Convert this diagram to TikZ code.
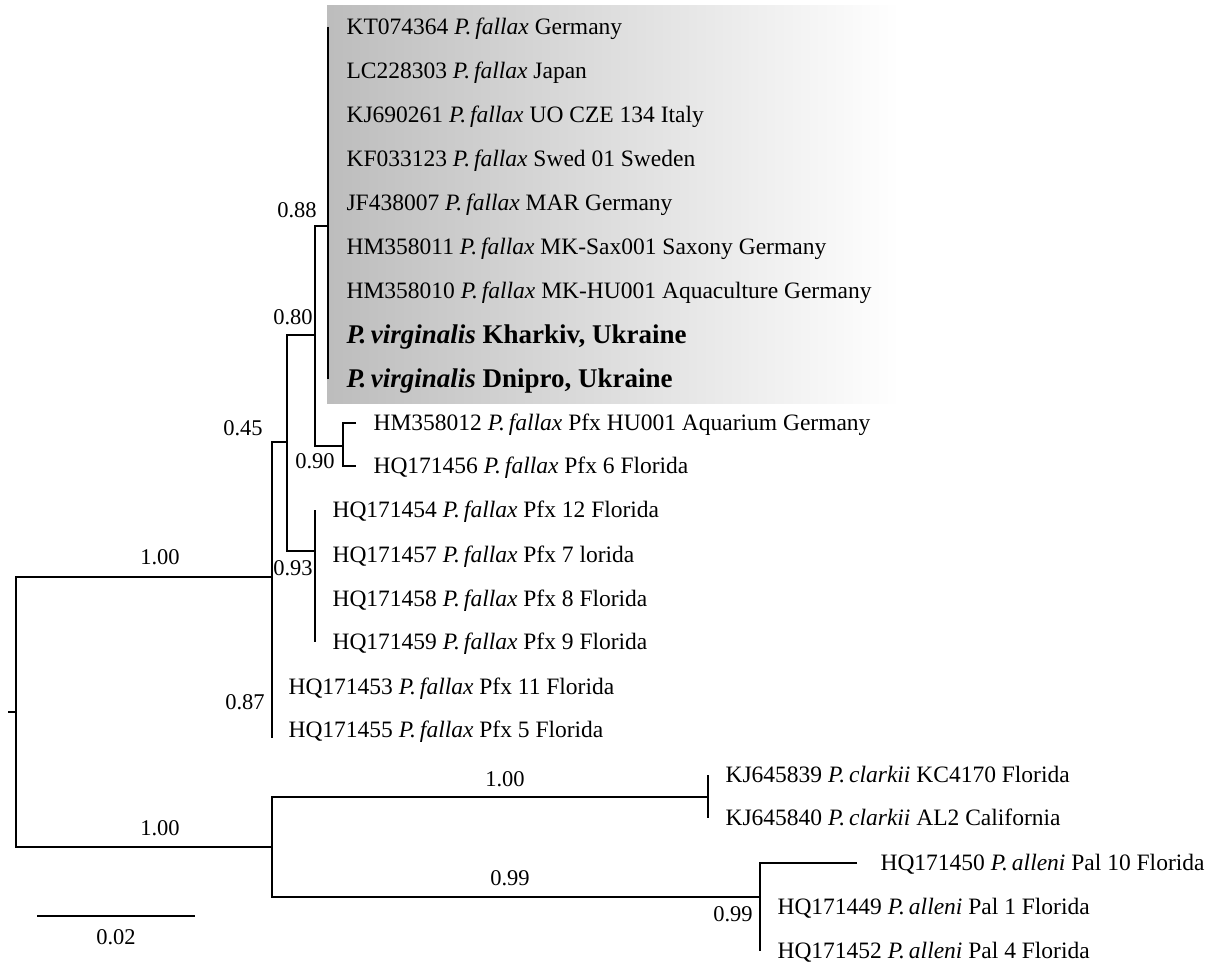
\documentclass[tikz,border=0pt]{standalone}
\usepackage{fontspec}
\setmainfont{Liberation Serif}
\usetikzlibrary{positioning}

\newcommand{\fal}{\textit{P.\,fallax}}
\newcommand{\vir}{\textit{P.\,virginalis}}

\begin{document}
\begin{tikzpicture}[x=1pt,y=-1pt,line width=1.1pt,
	leaf/.style={anchor=west,inner sep=0pt,text height=20pt,text depth=5pt,font=\fontsize{23.5}{27}\selectfont},
	ownleaf/.style={anchor=west,inner sep=0pt,text height=22pt,text depth=5pt,font=\fontsize{27}{31}\selectfont\bfseries},
	support/.style={inner sep=0pt,font=\fontsize{22.5}{26}\selectfont}]

	\useasboundingbox (0,0) rectangle (1217,963);
	\shade[left color=gray!52,right color=white] (327,6) rectangle (900,403);

	% internal nodes
	\coordinate (stub) at (8,712);
	\coordinate (root) at (16,712);
	\coordinate (A) at (272,577);
	\coordinate (Aend) at (272,738);
	\coordinate (C) at (287,442);
	\coordinate (D) at (315,335);
	\coordinate (E) at (315,551);
	\coordinate (F) at (328,226);
	\coordinate (G) at (343,446);
	\coordinate (B) at (272,847);
	\coordinate (H) at (708,797);
	\coordinate (I) at (760,897);

	% leaves
	\node[leaf] (L364) at (346,27) {KT074364 \fal{} Germany};
	\node[leaf] (L303) at (346,71) {LC228303 \fal{} Japan};
	\node[leaf] (L261) at (346,115) {KJ690261 \fal{} UO CZE 134 Italy};
	\node[leaf] (L123) at (346,159) {KF033123 \fal{} Swed 01 Sweden};
	\node[leaf] (L007) at (346,203) {JF438007 \fal{} MAR Germany};
	\node[leaf] (L011) at (346,247) {HM358011 \fal{} MK-Sax001 Saxony Germany};
	\node[leaf] (L010) at (346,291) {HM358010 \fal{} MK-HU001 Aquaculture Germany};
	\node[ownleaf] (Lkh) at (346,335) {\vir{} Kharkiv, Ukraine};
	\node[ownleaf] (Ldn) at (346,379) {\vir{} Dnipro, Ukraine};
	\node[leaf] (L012) at (373,423) {HM358012 \fal{} Pfx HU001 Aquarium Germany};
	\node[leaf] (L456) at (373,466) {HQ171456 \fal{} Pfx 6 Florida};
	\node[leaf] (L454) at (332,510) {HQ171454 \fal{} Pfx 12 Florida};
	\node[leaf] (L457) at (332,555) {HQ171457 \fal{} Pfx 7 lorida};
	\node[leaf] (L458) at (332,599) {HQ171458 \fal{} Pfx 8 Florida};
	\node[leaf] (L459) at (332,642) {HQ171459 \fal{} Pfx 9 Florida};
	\node[leaf] (L453) at (288,687) {HQ171453 \fal{} Pfx 11 Florida};
	\node[leaf] (L455) at (288,730) {HQ171455 \fal{} Pfx 5 Florida};
	\node[leaf] (L839) at (725,775) {KJ645839 \textit{P.\,clarkii} KC4170 Florida};
	\node[leaf] (L840) at (725,818) {KJ645840 \textit{P.\,clarkii} AL2 California};
	\node[leaf] (L450) at (880,863) {HQ171450 \textit{P.\,alleni} Pal 10 Florida};
	\node[leaf] (L449) at (777,907) {HQ171449 \textit{P.\,alleni} Pal 1 Florida};
	\node[leaf] (L452) at (777,951) {HQ171452 \textit{P.\,alleni} Pal 4 Florida};

	% branches
	\draw (stub) -- (root);
	\draw (A) -| (root) |- (B);
	\draw (C) -| (A) -- (Aend);
	\draw (D) -| (C) |- (E);
	\draw (L454.west -| E) -- (L459.west -| E);
	\draw (F) -| (D) |- (G);
	\draw (L364.west -| F) -- (Ldn.west -| F);
	\draw ([xshift=-17pt]L012.west) -| (G) |- ([xshift=-17pt]L456.west);
	\draw (H) -| (B) |- (I);
	\draw (L839.west -| H) -- (L840.west -| H);
	\draw ([xshift=-23pt]L450.west) -| (I) -- (L452.west -| I);

	% support values
	\node[support] (s1) at (160,557) {1.00};
	\node[support] (s2) at (160,828) {1.00};
	\node[support] (s3) at (505,779) {1.00};
	\node[support] (s4) at (510,878) {0.99};
	\node[support] (s5) at (733,914) {0.99};
	\node[support] (s6) at (297,210) {0.88};
	\node[support] (s7) at (293,317) {0.80};
	\node[support] (s8) at (243,428) {0.45};
	\node[support] (s9) at (315,461) {0.90};
	\node[support] (s10) at (293,568) {0.93};
	\node[support] (s11) at (245,702) {0.87};

	% scale bar
	\coordinate (sb1) at (37,916);
	\coordinate (sb2) at (195,916);
	\draw (sb1) -- (sb2);
	\node[support] (sbl) at (116,937) {0.02};

\end{tikzpicture}
\end{document}
